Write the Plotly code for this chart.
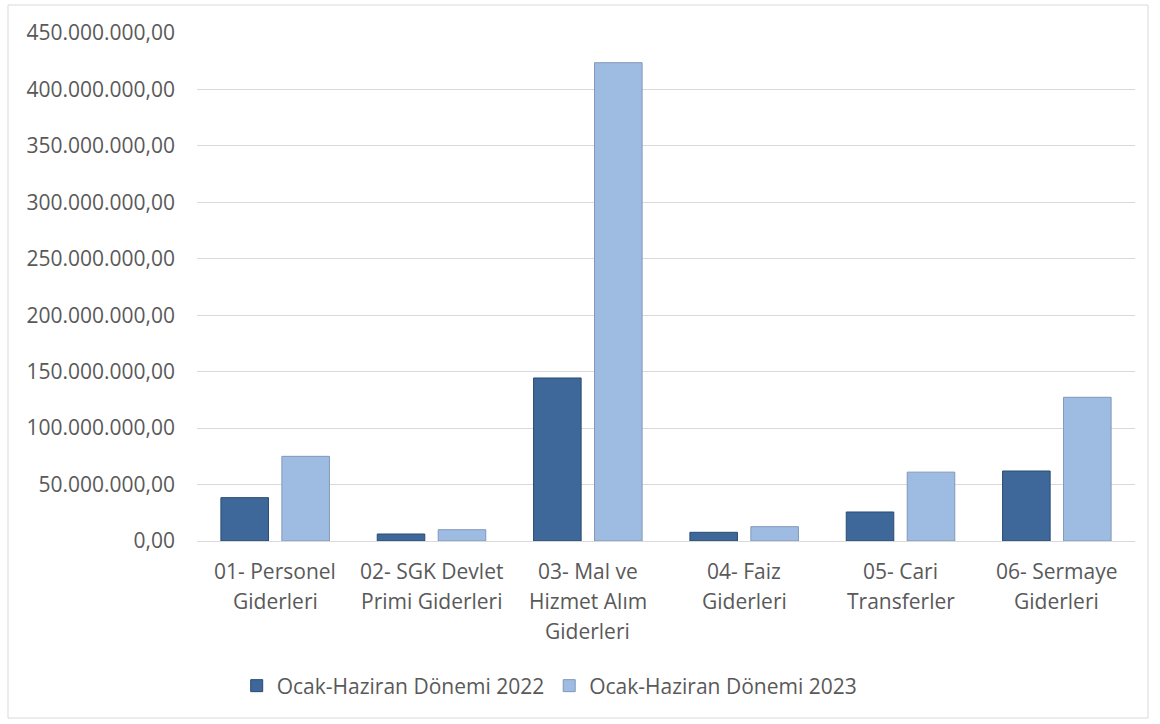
import plotly.graph_objects as go

categories = ["01- Personel Giderleri", "02- SGK Devlet Primi Giderleri", "03- Mal ve Hizmet Alım Giderleri",
              "04- Faiz Giderleri", "05- Cari Transferler", "06- Sermaye Giderleri"]
label_lines = [["01- Personel", "Giderleri"], ["02- SGK Devlet", "Primi Giderleri"],
               ["03- Mal ve", "Hizmet Alım", "Giderleri"], ["04- Faiz", "Giderleri"],
               ["05- Cari", "Transferler"], ["06- Sermaye", "Giderleri"]]
series_names = ["Ocak-Haziran Dönemi 2022", "Ocak-Haziran Dönemi 2023"]
values_2022 = [38400000, 6200000, 144400000, 7700000, 25700000, 62000000]
values_2023 = [75000000, 10000000, 423700000, 12700000, 61000000, 127300000]
tick_values = [0, 50e6, 100e6, 150e6, 200e6, 250e6, 300e6, 350e6, 400e6, 450e6]


def tr_fmt(v):
    s = f"{v:,.2f}"
    return s.replace(",", "X").replace(".", ",").replace("X", ".")


FONT = "Open Sans"
FS = 21
TXT = "#595959"
W, H = 1160, 724
L, R, T, B = 197, 25, 33, 183
pw, ph = W - L - R, H - T - B

fig = go.Figure()
fig.add_trace(go.Bar(x=categories, y=values_2022, name=series_names[0],
                     marker=dict(color="#3D6899", line=dict(color="#2A4B73", width=1))))
fig.add_trace(go.Bar(x=categories, y=values_2023, name=series_names[1],
                     marker=dict(color="#9EBCE2", line=dict(color="#8098B8", width=1))))

annotations = []
for cat, lines in zip(categories, label_lines):
    for i, ln in enumerate(lines):
        annotations.append(dict(x=cat, y=0, xref="x", yref="paper", text=ln, showarrow=False,
                                yanchor="middle", yshift=-30 - 30 * i,
                                font=dict(family=FONT, size=FS, color=TXT)))

fig.update_layout(
    width=W, height=H,
    margin=dict(l=L, r=R, t=T, b=B),
    paper_bgcolor="white", plot_bgcolor="white",
    barmode="group", bargap=0.22, bargroupgap=0.22,
    font=dict(family=FONT, size=FS, color=TXT),
    xaxis=dict(showticklabels=False, showline=True, linecolor="#D9D9D9", linewidth=1,
               ticks="", showgrid=False),
    yaxis=dict(range=[0, 450e6], tickvals=tick_values, ticktext=[tr_fmt(v) for v in tick_values],
               showgrid=True, gridcolor="#D9D9D9", gridwidth=1, zeroline=False, showline=False,
               ticks="", ticklabelstandoff=21, tickfont=dict(family=FONT, size=FS, color=TXT)),
    legend=dict(orientation="h", x=0.376, xanchor="center", y=-(686 - 541) / ph, yanchor="middle",
                font=dict(family=FONT, size=FS, color=TXT), itemwidth=30, traceorder="normal"),
    annotations=annotations,
    shapes=[dict(type="rect", xref="paper", yref="paper",
                 x0=(8 - L) / pw, x1=(1148 - L) / pw, y0=(T + ph - 718) / ph, y1=(T + ph - 5) / ph,
                 line=dict(color="#D9D9D9", width=1), fillcolor="rgba(0,0,0,0)", layer="below")],
)

fig.write_html("out.html", config={"displayModeBar": False},
               post_script="document.body.style.margin='0';document.body.style.overflow='hidden';")
